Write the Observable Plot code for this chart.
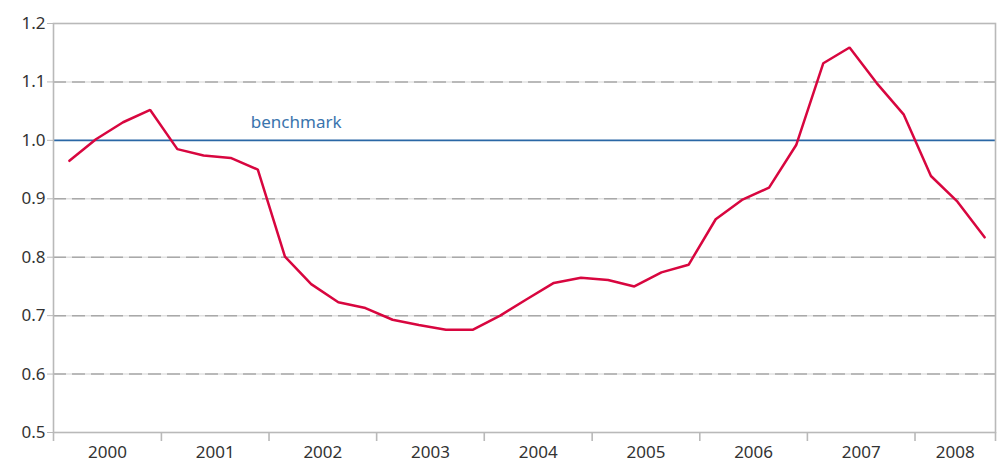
<!DOCTYPE html>
<html>
<head>
<meta charset="utf-8">
<script src="https://cdn.jsdelivr.net/npm/d3@7"></script>
<script src="https://cdn.jsdelivr.net/npm/@observablehq/plot@0.6"></script>
<style>
  html, body { margin: 0; padding: 0; background: #fff; }
  #chart { width: 1000px; height: 464px; }
</style>
</head>
<body>
<div id="chart"></div>
<script>
// Years shown on the x axis
const years = [2000, 2001, 2002, 2003, 2004, 2005, 2006, 2007, 2008];
// Quarterly values, 2000 Q1 – 2008 Q3
const quarters = [
  "2000Q1","2000Q2","2000Q3","2000Q4",
  "2001Q1","2001Q2","2001Q3","2001Q4",
  "2002Q1","2002Q2","2002Q3","2002Q4",
  "2003Q1","2003Q2","2003Q3","2003Q4",
  "2004Q1","2004Q2","2004Q3","2004Q4",
  "2005Q1","2005Q2","2005Q3","2005Q4",
  "2006Q1","2006Q2","2006Q3","2006Q4",
  "2007Q1","2007Q2","2007Q3","2007Q4",
  "2008Q1","2008Q2","2008Q3"
];
const values = [
  0.965, 1.002, 1.031, 1.052,
  0.985, 0.974, 0.970, 0.950,
  0.801, 0.754, 0.723, 0.713,
  0.693, 0.684, 0.676, 0.676,
  0.700, 0.728, 0.756, 0.765,
  0.761, 0.750, 0.774, 0.787,
  0.865, 0.898, 0.919, 0.992,
  1.132, 1.159, 1.098, 1.044,
  0.939, 0.895, 0.834
];
const yTicks = [0.5, 0.6, 0.7, 0.8, 0.9, 1.0, 1.1, 1.2];
const gridValues = [0.6, 0.7, 0.8, 0.9, 1.1];
const benchmarkValue = 1.0;
const benchmarkLabel = "benchmark";

// each quarter's observation is dated late in its middle month
const qDate = q => {
  const y = +q.slice(0, 4), n = +q.slice(5);
  return new Date(Date.UTC(y, 3 * (n - 1) + 1, 24));
};
const data = quarters.map((q, i) => ({date: qDate(q), value: values[i]}));

const xStart = new Date(Date.UTC(years[0], 0, 1));
const xEnd = new Date(Date.UTC(2008, 8, 30));
const boundaries = years.map(y => new Date(Date.UTC(y, 0, 1))).concat([xEnd]);
const mids = years.map(y => {
  const a = Date.UTC(y, 0, 1);
  const b = Math.min(Date.UTC(y + 1, 0, 1), +xEnd);
  return {date: new Date((a + b) / 2), label: String(y)};
});

const font = "'Noto Sans', 'Liberation Sans', sans-serif";
const gray = "#b9b9b9";

const chart = Plot.plot({
  width: 1000,
  height: 464,
  marginLeft: 53,
  marginRight: 5,
  marginTop: 23,
  marginBottom: 32,
  style: {fontFamily: font, fontSize: "17px", color: "#333", background: "#fff"},
  x: {type: "utc", domain: [xStart, xEnd]},
  y: {domain: [0.5, 1.2]},
  marks: [
    Plot.ruleY(gridValues, {stroke: "#e2e2e2", strokeWidth: 1.5}),
    Plot.ruleY(gridValues, {stroke: "#a9a9a9", strokeWidth: 1.5, strokeDasharray: "13,6"}),
    Plot.ruleY([benchmarkValue], {stroke: "#2a67a5", strokeWidth: 1.6}),
    Plot.text([benchmarkLabel], {
      x: () => new Date(Date.UTC(2002, 3, 3)),
      y: () => benchmarkValue,
      text: d => d,
      dy: -18,
      fill: "#3a74ad",
      fontSize: 17
    }),
    Plot.frame({stroke: gray, strokeWidth: 1.6}),
    Plot.axisY(yTicks, {
      tickSize: 6, tickPadding: 2, stroke: gray,
      tickFormat: d => d.toFixed(1), fontSize: 17, fill: "#333", label: null
    }),
    Plot.axisX(boundaries, {tickSize: 9, text: null, stroke: gray, strokeWidth: 1.6, label: null}),
    Plot.axisX(mids.map(d => d.date), {
      tickSize: 0, tickPadding: 13,
      tickFormat: (d, i) => mids[i].label, fontSize: 17, fill: "#333", label: null
    }),
    Plot.line(data, {x: "date", y: "value", stroke: "#d8063f", strokeWidth: 2.5, strokeLinejoin: "miter"})
  ]
});
document.getElementById("chart").appendChild(chart);
</script>
</body>
</html>
